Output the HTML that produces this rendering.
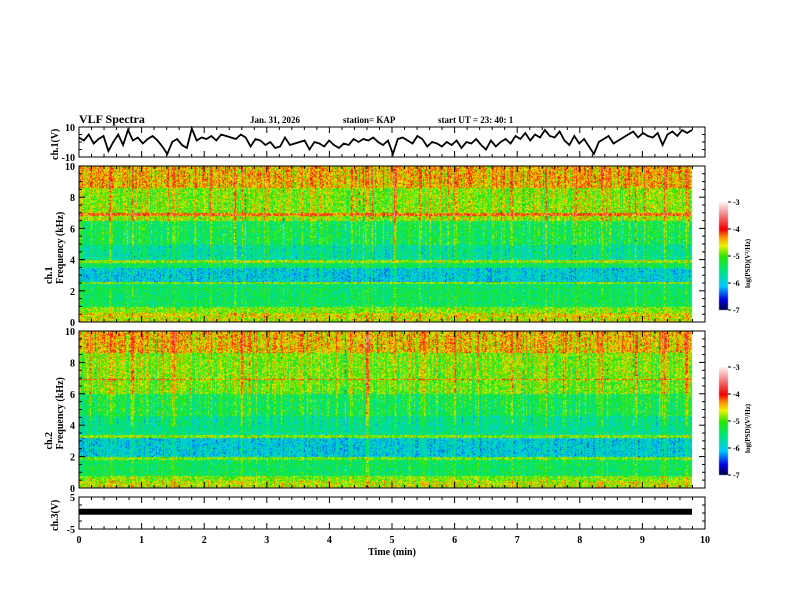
<!DOCTYPE html>
<html><head><meta charset="utf-8">
<style>
html,body{margin:0;padding:0;background:#fff;}
#wrap{position:relative;width:792px;height:612px;overflow:hidden;}
canvas,svg{position:absolute;left:0;top:0;}
svg text{font-family:"Liberation Serif",serif;font-weight:bold;fill:#000;}
</style></head><body>
<div id="wrap">
<canvas id="cv" width="792" height="612"></canvas>
<svg id="sv" width="792" height="612"></svg>
</div>
<script>
// ---- data ----
const timeTicks=[0,1,2,3,4,5,6,7,8,9,10];
const ch1Wave=[3,1,5,-1,2,4,-6,0,5,-2,8,1,3,-1,2,4,1,-3,-8,0,2,-2,-4,9,1,3,2,4,1,5,4,3,2,5,3,-3,2,1,-2,0,-4,-3,3,-2,-1,0,1,-5,0,-1,-3,1,-2,-4,-1,-2,2,0,2,1,3,0,-2,1,-8,2,3,1,-1,4,2,-3,0,-1,-3,0,-2,1,-4,0,-1,2,-2,-5,1,-3,0,2,-1,4,2,6,1,5,3,8,4,3,7,1,-2,4,-1,2,-3,-8,0,2,4,-1,1,3,5,7,3,6,4,3,6,-2,5,7,4,8,6,8];
const ch3Wave=[0.4,0.4,0.4,0.4,0.4,0.4,0.4,0.4,0.4,0.4];
// band profiles: [fLow kHz, fHigh kHz, logPSD]
const bands1=[[8.6,10,-4.45],[7.0,8.6,-4.85],[6.85,7.0,-4.2],[6.5,6.85,-4.8],[5.0,6.5,-5.35],[4.0,5.0,-5.65],[3.8,4.0,-4.8],[3.5,3.8,-5.4],[2.6,3.5,-5.95],[2.45,2.6,-4.9],[2.3,2.45,-5.5],[1.0,2.3,-5.4],[0.6,1.0,-4.9],[0.3,0.6,-4.6],[0,0.3,-4.7]];
const bands2=[[8.6,10,-4.5],[7.0,8.6,-4.9],[6.9,7.0,-4.3],[6.0,6.9,-4.95],[4.6,6.0,-5.35],[3.4,4.6,-5.6],[3.2,3.4,-4.9],[2.0,3.2,-5.95],[1.8,2.0,-4.95],[0.8,1.8,-5.4],[0.5,0.8,-4.9],[0,0.5,-4.7]];
const sfericTimes=[0.5,0.85,1.5,2.5,2.6,3.55,4.35,4.6,5.05,5.45,6.0,6.9,7.45,8.35,8.9,9.35,9.7];
const cbTicks=[-3,-4,-5,-6,-7];

// ---- geometry ----
const X0=79,X1=705,XD=692;
const P1={t:127,b:157}, S1={t:166,b:322}, S2={t:331,b:488}, P3={t:497,b:529};
const xs=t=>X0+(X1-X0)*t/10;
const NS='http://www.w3.org/2000/svg';
const sv=document.getElementById('sv');
function el(tag,attrs,name,inter){const e=document.createElementNS(NS,tag);for(const k in attrs)e.setAttribute(k,attrs[k]);


sv.appendChild(e);return e;}
function txt(x,y,s,name,opt){const e=el('text',Object.assign({x:x,y:y,'font-size':10},opt||{}),name,false);e.textContent=s;return e;}

function cmap(v){
 const stops=[[-7,[0,0,60]],[-6.6,[0,0,230]],[-6.1,[0,200,255]],[-5.5,[0,230,120]],[-5.0,[40,230,0]],[-4.6,[240,240,0]],[-4.3,[255,150,0]],[-4.0,[240,0,0]],[-3.5,[240,120,120]],[-3,[255,240,240]]];
 if(v<=stops[0][0])return stops[0][1];
 for(let i=1;i<stops.length;i++){if(v<=stops[i][0]){const a=stops[i-1],b=stops[i];const f=(v-a[0])/(b[0]-a[0]);return [0,1,2].map(k=>a[1][k]+(b[1][k]-a[1][k])*f);}}
 return stops[stops.length-1][1];
}
function hash(a,b){let h=(a*374761393+b*668265263)|0;h=(h^(h>>>13))*1274126177|0;return ((h^(h>>>16))>>>0)/4294967295;}
const cv=document.getElementById('cv');const ctx=cv.getContext('2d');
function drawSpec(P,bands,seed){
 const w=XD-X0,h=P.b-P.t;const img=ctx.createImageData(w,h);
 const colBoost=[];
 for(let x=0;x<w;x++){const t=x/(X1-X0)*10;let b=(hash(x,seed)-0.5)*0.6;
   for(const s of sfericTimes){const d=Math.abs(t-s)*62.6;if(d<1.2)b+=0.45;}
   if(hash(x,seed+7)>0.85)b+=0.3;colBoost.push(b);}
 for(let y=0;y<h;y++){const f=10*(1-y/h);let v=-5;
  for(const bd of bands){if(f>=bd[0]&&f<=bd[1]){v=bd[2];break;}}
  for(let x=0;x<w;x++){const hi=f>4?1:0.5;let vv=v+colBoost[x]*hi+(hash(x*3+y,seed+y)-0.5)*0.9;
   const c=cmap(vv);const i=(y*w+x)*4;img.data[i]=c[0];img.data[i+1]=c[1];img.data[i+2]=c[2];img.data[i+3]=255;}}
 ctx.putImageData(img,X0,P.t);
}
drawSpec(S1,bands1,11);drawSpec(S2,bands2,29);
function drawCB(top,bot,name){for(let y=top;y<bot;y++){const v=-3-4*(y-top)/(bot-top);const c=cmap(v);ctx.fillStyle=`rgb(${c[0]|0},${c[1]|0},${c[2]|0})`;ctx.fillRect(719,y,9,1);}
 el('rect',{x:719,y:top,width:9,height:bot-top,fill:'none',stroke:'none'},name,false);
 cbTicks.forEach(v=>{const y=top+(bot-top)*(-3-v)/4;el('line',{x1:728,x2:731,y1:y,y2:y,stroke:'#000'},'colorbar-tick',false);txt(733,y+3,String(v),'colorbar-tick-label',{'font-size':8});});
 txt(0,0,'log(PSD)(V\u00b2/Hz)','colorbar-title',{'font-size':7,transform:`translate(750,${(top+bot)/2+32}) rotate(-90)`});
}
drawCB(202,310,'colorbar-ch1');drawCB(367,475,'colorbar-ch2');

function panel(P,name,yTicksMaj,yMin,yMax,yMinor,ylabel){
 el('rect',{x:X0,y:P.t,width:X1-X0,height:P.b-P.t,fill:'none',stroke:'#000','stroke-width':1},name+'-frame',false);
 for(let i=0;i<=50;i++){const x=xs(i/5);const L=i%5==0?6:3;
  el('line',{x1:x,x2:x,y1:P.t,y2:P.t+L,stroke:'#000'},name+'-xtick',false);
  el('line',{x1:x,x2:x,y1:P.b,y2:P.b-L,stroke:'#000'},name+'-xtick',false);}
 const ys=v=>P.b-(P.b-P.t)*(v-yMin)/(yMax-yMin);
 for(let v=yMin;v<=yMax+1e-9;v+=yMinor){const y=ys(v);const maj=yTicksMaj.some(m=>Math.abs(m-v)<1e-6);const L=maj?6:3;
  el('line',{x1:X0,x2:X0+L,y1:y,y2:y,stroke:'#000'},name+'-ytick',false);
  el('line',{x1:X1,x2:X1-L,y1:y,y2:y,stroke:'#000'},name+'-ytick',false);}
 yTicksMaj.forEach(m=>txt(X0-4,ys(m)+4,String(m),name+'-ytick-label',{'text-anchor':'end'}));
 ylabel.forEach((s,k)=>txt(0,0,s,name+'-ylabel',{transform:`translate(${ylabel.length>1?(52+k*11):58},${(P.t+P.b)/2+(ylabel.length>1?40:18)}) rotate(-90)`}));
 return ys;
}
const ys1=panel(P1,'ch1-wave',[10,-10],-10,10,5,['ch.1(V)']);
panel(S1,'ch1-spec',[0,2,4,6,8,10],0,10,0.5,['ch.1','Frequency (kHz)']);
panel(S2,'ch2-spec',[0,2,4,6,8,10],0,10,0.5,['ch.2','Frequency (kHz)']);
const ys3=panel(P3,'ch3-wave',[5,-5],-5,5,2.5,['ch.3(V)']);
let d='';ch1Wave.forEach((v,i)=>{const x=X0+(XD-X0)*i/(ch1Wave.length-1);d+=(i?'L':'M')+x.toFixed(1)+','+ys1(v).toFixed(1);});
el('path',{d:d,fill:'none',stroke:'#000','stroke-width':1.8},'ch1-waveform',false);
d='';ch3Wave.forEach((v,i)=>{const x=X0+(XD-X0)*i/(ch3Wave.length-1);d+=(i?'L':'M')+x.toFixed(1)+','+ys3(v).toFixed(1);});
el('path',{d:d,fill:'none',stroke:'#000','stroke-width':6},'ch3-waveform',false);
timeTicks.forEach(t=>txt(xs(t),543,String(t),'x-tick-label',{'text-anchor':'middle'}));
txt(392,555,'Time  (min)','x-axis-title',{'text-anchor':'middle'});
txt(79,123,'VLF Spectra','chart-title',{'font-size':12});
txt(250,123,'Jan. 31, 2026','date-label',{'font-size':9});
txt(343,123,'station= KAP','station-label',{'font-size':9});
txt(438,123,'start  UT =  23: 40: 1','start-time-label',{'font-size':9});
</script>
</body></html>
